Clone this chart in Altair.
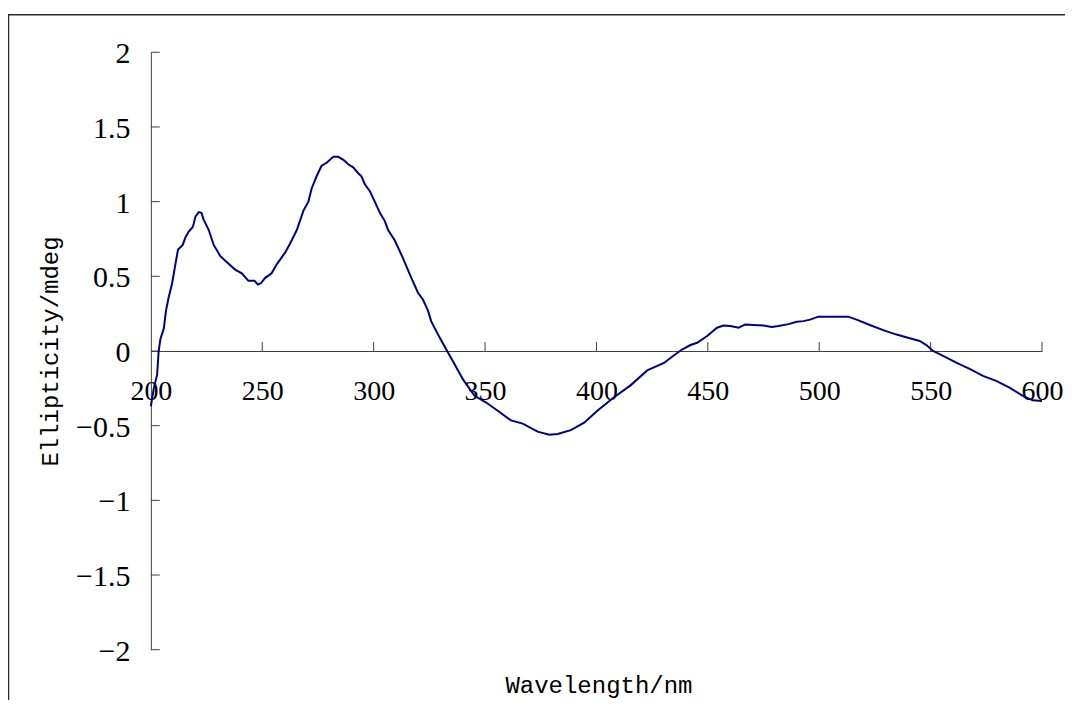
import altair as alt
import pandas as pd

wavelength = [
    200, 201.3, 202.8, 203.5, 204.3, 205.8, 206.8, 208, 209.5, 211, 212.2, 214.3,
    215.5, 217, 218.8, 219.2, 220, 221.5, 222.7, 223.7, 226, 228.2, 231.2, 233.4,
    237.8, 240.8, 243.8, 246.5, 248, 249.5, 251.3, 254.2, 256.5, 260.3, 262.5,
    265.5, 268.5, 270.7, 272.2, 274.4, 276.6, 278.9, 281.9, 284.1, 286.4, 288.6,
    290.8, 293.1, 294.5, 296.1, 298.3, 300.5, 302.8, 305, 306.5, 309.5, 313.2,
    316.9, 319.9, 322.1, 324.4, 325.8, 328.9, 332.6, 336.4, 340.1, 345.3, 350.5,
    355.7, 361.7, 366.9, 373.6, 378.8, 382.6, 388.5, 394.5, 400.4, 407.9, 415.3,
    422.8, 430.3, 434.7, 438.4, 442.2, 445.2, 449.7, 454.1, 457.1, 460.1, 463.8,
    466.8, 470.6, 475, 478.7, 481.7, 486.2, 489.9, 492.9, 495.9, 499.6, 504.8,
    513, 516.8, 522.7, 528.7, 534.7, 540.6, 545.1, 548.1, 551.1, 555.6, 561.5,
    567.5, 573.5, 579.4, 585.4, 591.4, 595.8, 600,
]
ellipticity = [
    -0.37, -0.25, -0.16, 0.0, 0.08, 0.15, 0.27, 0.36, 0.45, 0.58, 0.68, 0.71,
    0.76, 0.80, 0.83, 0.85, 0.90, 0.93, 0.925, 0.88, 0.81, 0.71, 0.635, 0.605,
    0.545, 0.52, 0.47, 0.47, 0.445, 0.455, 0.49, 0.52, 0.58, 0.66, 0.72,
    0.81, 0.94, 1.00, 1.09, 1.17, 1.24, 1.26, 1.30, 1.30, 1.28, 1.25,
    1.23, 1.19, 1.17, 1.115, 1.07, 1.00, 0.925, 0.87, 0.81, 0.74, 0.62,
    0.49, 0.39, 0.345, 0.27, 0.20, 0.11, 0.01, -0.09, -0.19, -0.30, -0.345,
    -0.40, -0.465, -0.486, -0.54, -0.56, -0.555, -0.53, -0.48, -0.40, -0.31, -0.23,
    -0.13, -0.08, -0.03, 0.01, 0.04, 0.055, 0.10, 0.156, 0.17, 0.167, 0.156,
    0.178, 0.174, 0.17, 0.16, 0.167, 0.18, 0.196, 0.20, 0.21, 0.23, 0.23,
    0.23, 0.21, 0.174, 0.14, 0.11, 0.085, 0.067, 0.04, 0.0, -0.033, -0.078,
    -0.12, -0.167, -0.20, -0.245, -0.30, -0.33, -0.335,
]
x_tick_values = [200, 250, 300, 350, 400, 450, 500, 550, 600]
x_tick_marks = [250, 300, 350, 400, 450, 500, 550, 600]
y_tick_values = [-2, -1.5, -1, -0.5, 0, 0.5, 1, 1.5, 2]

df = pd.DataFrame({"wl": wavelength, "ell": ellipticity})
xt = pd.DataFrame({"x": x_tick_marks})
yt = pd.DataFrame({"y": y_tick_values})

W, H = 892, 598
AXIS_COLOR = "#404040"
xscale = alt.Scale(domain=[200, 600], nice=False, zero=False)
yscale = alt.Scale(domain=[-2, 2], nice=False, zero=False)

x_axis = alt.Axis(
    title="Wavelength/nm", values=x_tick_values, format="d", offset=-(H / 2),
    domain=True, domainColor=AXIS_COLOR, domainWidth=1, ticks=False, grid=False,
    labelFont="Liberation Serif", labelFontSize=28, labelColor="#000000",
    labelBaseline="alphabetic", labelPadding=49, labelFlush=False,
    labelOverlap=False, labelBound=False,
    titleFont="Liberation Mono", titleFontSize=24, titleFontWeight="normal",
    titleColor="#000000", titleX=W / 2 + 2, titleY=342, titleAlign="center",
    titleBaseline="alphabetic",
)
y_axis = alt.Axis(
    title="Ellipticity/mdeg", values=y_tick_values, format="~g",
    domain=True, domainColor=AXIS_COLOR, domainWidth=1, ticks=False, grid=False,
    labelFont="Liberation Serif", labelFontSize=30, labelColor="#000000",
    labelPadding=21, labelOverlap=False, labelFlush=False, labelOffset=1.5,
    titleFont="Liberation Mono", titleFontSize=24, titleFontWeight="normal",
    titleColor="#000000", titleAngle=270, titleX=-93, titleY=H / 2,
    titleAlign="center", titleBaseline="alphabetic",
)

line = alt.Chart(df).mark_line(color="#000080", strokeWidth=2).encode(
    x=alt.X("wl:Q", scale=xscale, axis=x_axis),
    y=alt.Y("ell:Q", scale=yscale, axis=y_axis),
)

x_ticks = alt.Chart(xt).mark_rule(color=AXIS_COLOR, strokeWidth=1).encode(
    x=alt.X("x:Q", scale=xscale),
    y=alt.datum(0),
    y2=alt.datum(0.06),
)

y_ticks = alt.Chart(yt).mark_rule(color=AXIS_COLOR, strokeWidth=1).encode(
    y=alt.Y("y:Q", scale=yscale),
    x=alt.datum(200),
    x2=alt.datum(204),
)

frame = alt.Chart(pd.DataFrame({"k": [0]})).mark_rect(
    fillOpacity=0, stroke="#2a2a2a", strokeWidth=1.5
).encode(
    x=alt.value(-142.5), x2=alt.value(960),
    y=alt.value(-37.5), y2=alt.value(720),
)

chart = alt.layer(frame, y_ticks, x_ticks, line).properties(
    width=W, height=H,
    autosize=alt.AutoSizeParams(type="none"),
    padding={"left": 143, "top": 44, "right": 23, "bottom": 50},
    background="#ffffff",
).configure_view(stroke=None)

chart.save("out.html", embed_options={"renderer": "svg", "actions": False})
